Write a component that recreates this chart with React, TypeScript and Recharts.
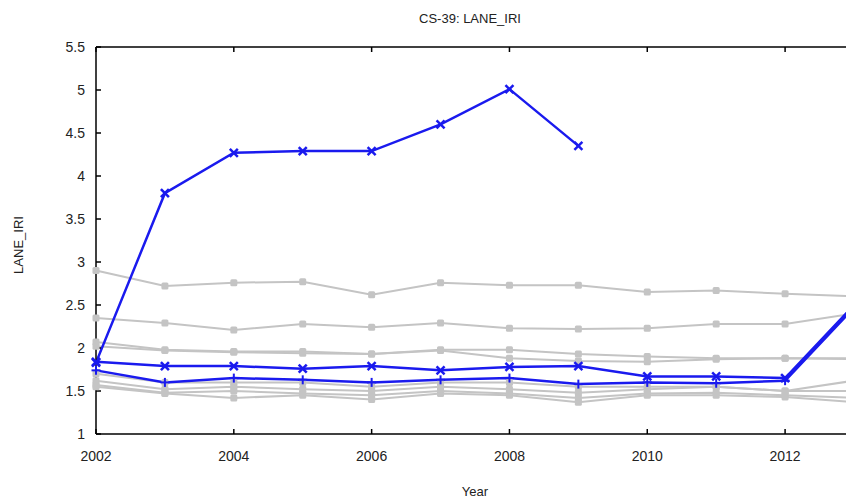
import React from "react";
import { LineChart, Line, XAxis, YAxis } from "recharts";

const years = [2002, 2003, 2004, 2005, 2006, 2007, 2008, 2009, 2010, 2011, 2012, 2013];
const xTicks = [2002, 2004, 2006, 2008, 2010, 2012];
const yTicks = [1, 1.5, 2, 2.5, 3, 3.5, 4, 4.5, 5, 5.5];

// highlighted (blue) sections
const blueHigh = [1.83, 3.8, 4.27, 4.29, 4.29, 4.6, 5.01, 4.35, null, null, null, null];
const blueMid = [1.84, 1.79, 1.79, 1.76, 1.79, 1.74, 1.78, 1.79, 1.67, 1.67, 1.65, 2.5];
const blueLow = [1.74, 1.6, 1.65, 1.63, 1.6, 1.63, 1.65, 1.58, 1.6, 1.59, 1.62, 2.47];

// other sections (gray)
const gray1 = [2.9, 2.72, 2.76, 2.77, 2.62, 2.76, 2.73, 2.73, 2.65, 2.67, 2.63, 2.6];
const gray2 = [2.35, 2.29, 2.21, 2.28, 2.24, 2.29, 2.23, 2.22, 2.23, 2.28, 2.28, 2.4];
const gray3 = [2.07, 1.98, 1.96, 1.96, 1.93, 1.98, 1.98, 1.93, 1.9, 1.88, 1.88, 1.88];
const gray4 = [2.02, 1.97, 1.95, 1.94, 1.93, 1.97, 1.88, 1.85, 1.84, 1.87, 1.88, 1.87];
const gray5 = [1.7, 1.6, 1.6, 1.6, 1.55, 1.6, 1.6, 1.55, 1.55, 1.55, 1.5, 1.62];
const gray6 = [1.62, 1.52, 1.55, 1.52, 1.5, 1.55, 1.52, 1.48, 1.52, 1.55, 1.5, 1.5];
const gray7 = [1.57, 1.48, 1.5, 1.47, 1.45, 1.5, 1.47, 1.42, 1.47, 1.48, 1.45, 1.42];
const gray8 = [1.55, 1.47, 1.42, 1.45, 1.4, 1.47, 1.45, 1.37, 1.45, 1.45, 1.43, 1.37];

const grays = [gray1, gray2, gray3, gray4, gray5, gray6, gray7, gray8];

const data = years.map((year, i) => {
  const row: Record<string, number | null> = {
    year,
    blueHigh: blueHigh[i],
    blueMid: blueMid[i],
    blueLow: blueLow[i],
  };
  grays.forEach((g, j) => {
    row["g" + j] = g[i];
  });
  return row;
});

const BLUE = "#1a1aee";
const GRAY = "#c4c4c4";
const FONT = "'Liberation Sans', Arial, sans-serif";

const SquareDot = (props: any) => {
  const { cx, cy, index } = props;
  if (cx == null || cy == null) return <g key={index} />;
  return <rect key={index} x={cx - 3.5} y={cy - 3.5} width={7} height={7} rx={1.5} fill={GRAY} />;
};

const CrossDot = (props: any) => {
  const { cx, cy, index } = props;
  if (cx == null || cy == null) return <g key={index} />;
  const s = 4;
  return (
    <g key={index} stroke={BLUE} strokeWidth={2.5}>
      <line x1={cx - s} y1={cy - s} x2={cx + s} y2={cy + s} />
      <line x1={cx - s} y1={cy + s} x2={cx + s} y2={cy - s} />
    </g>
  );
};

const PlusDot = (props: any) => {
  const { cx, cy, index } = props;
  if (cx == null || cy == null) return <g key={index} />;
  const s = 4.5;
  return (
    <g key={index} stroke={BLUE} strokeWidth={2}>
      <line x1={cx - s} y1={cy} x2={cx + s} y2={cy} />
      <line x1={cx} y1={cy - s} x2={cx} y2={cy + s} />
    </g>
  );
};

export default function App() {
  const tickStyle = { fill: "#222", fontSize: 14, fontFamily: FONT };
  return (
    <div
      style={{
        position: "absolute",
        left: 0,
        top: 0,
        width: 846,
        height: 503,
        overflow: "hidden",
        background: "#fff",
        fontFamily: FONT,
      }}
    >
      <div
        style={{
          position: "absolute",
          left: 0,
          width: 940,
          top: 11,
          textAlign: "center",
          fontSize: 13,
          color: "#222",
        }}
      >
        CS-39: LANE_IRI
      </div>
      <div
        style={{
          position: "absolute",
          left: 445,
          width: 60,
          top: 484,
          textAlign: "center",
          fontSize: 13,
          color: "#222",
        }}
      >
        Year
      </div>
      <div
        style={{
          position: "absolute",
          left: 18,
          top: 245,
          fontSize: 13,
          color: "#222",
          transform: "translate(-50%, -50%) rotate(-90deg)",
          whiteSpace: "nowrap",
        }}
      >
        LANE_IRI
      </div>
      <LineChart
        width={860}
        height={503}
        data={data}
        margin={{ top: 46, right: 6, bottom: 39, left: 56 }}
        style={{ position: "absolute", left: 0, top: 0 }}
      >
        <XAxis
          xAxisId="top"
          orientation="top"
          dataKey="year"
          type="number"
          domain={[2002, 2013]}
          ticks={xTicks}
          height={1}
          tickSize={-5}
          tickFormatter={() => ""}
          axisLine={{ stroke: "#000", strokeWidth: 1.5 }}
          tickLine={{ stroke: "#000", strokeWidth: 1.5 }}
        />
        <XAxis
          dataKey="year"
          type="number"
          domain={[2002, 2013]}
          ticks={xTicks}
          height={30}
          tickSize={-5}
          tickMargin={22}
          tick={tickStyle}
          axisLine={{ stroke: "#000", strokeWidth: 1.5 }}
          tickLine={{ stroke: "#000", strokeWidth: 1.5 }}
        />
        <YAxis
          type="number"
          domain={[1, 5.5]}
          ticks={yTicks}
          width={40}
          tickSize={-5}
          tickMargin={16}
          tick={tickStyle}
          axisLine={{ stroke: "#000", strokeWidth: 1.5 }}
          tickLine={{ stroke: "#000", strokeWidth: 1.5 }}
        />
        {grays.map((_, j) => (
          <Line
            key={"g" + j}
            dataKey={"g" + j}
            stroke={GRAY}
            strokeWidth={2}
            dot={SquareDot}
            activeDot={false}
            isAnimationActive={false}
          />
        ))}
        <Line
          dataKey="blueLow"
          stroke={BLUE}
          strokeWidth={2.5}
          dot={PlusDot}
          activeDot={false}
          isAnimationActive={false}
        />
        <Line
          dataKey="blueMid"
          stroke={BLUE}
          strokeWidth={2.5}
          dot={CrossDot}
          activeDot={false}
          isAnimationActive={false}
        />
        <Line
          dataKey="blueHigh"
          stroke={BLUE}
          strokeWidth={2.5}
          dot={CrossDot}
          activeDot={false}
          isAnimationActive={false}
        />
      </LineChart>
    </div>
  );
}
